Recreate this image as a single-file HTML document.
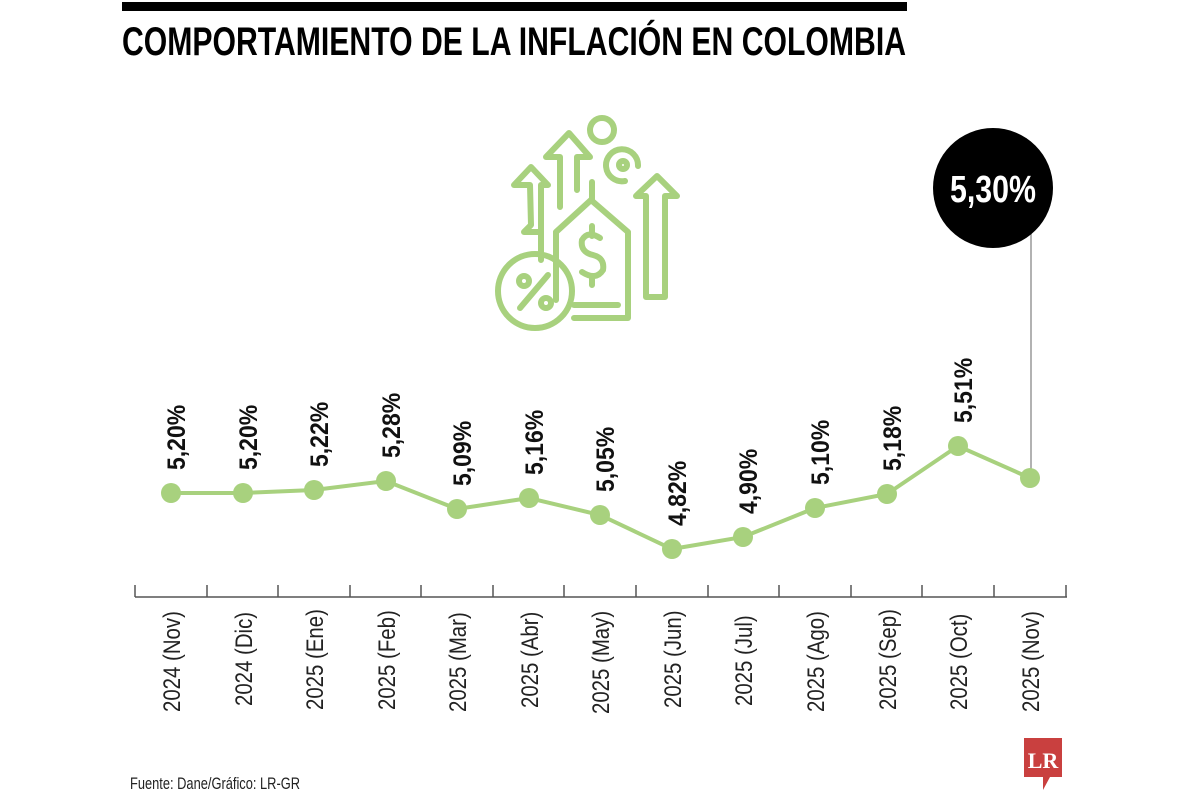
<!DOCTYPE html>
<html><head><meta charset="utf-8"><style>
html,body{margin:0;padding:0;background:#fff;}
svg{display:block;font-family:"Liberation Sans",sans-serif;}
</style></head><body>
<svg width="1200" height="800" viewBox="0 0 1200 800" xmlns="http://www.w3.org/2000/svg">
<rect x="122" y="2" width="785" height="9" fill="#000"/>
<text x="122" y="55" font-size="40" font-weight="bold" textLength="784" lengthAdjust="spacingAndGlyphs">COMPORTAMIENTO DE LA INFLACIÓN EN COLOMBIA</text>

<!-- icon -->
<g fill="none" stroke="#a8d17e" stroke-width="6" stroke-linejoin="round" stroke-linecap="round">
  <circle cx="602" cy="130" r="12"/>
  <path d="M625 181 A16 16 0 1 1 638 166"/>
  <circle cx="623" cy="165" r="4"/>
  <path d="M541 260 V232 H524 L531 225 L530 185 L514 185 L531 167 L548 185 L541 185 V245"/>
  <path d="M560 207 V157 H546 L569 133 L590 157 H577 V190"/>
  <path d="M646 297 V196 H636 L657 176 L677 196 H665 V297 Z"/>
  <path d="M556 300 V232 L591 200 L628 232 V318 H574"/>
  <path d="M592 200 V182"/>
  <path d="M600 238 Q588 230 582 240 Q580 252 593 255 Q605 258 603 270 Q596 281 582 272 M592 226 V236 M592 276 V285"/>
  <path d="M574 305 H618"/>
  <circle cx="535" cy="291" r="37"/>
  <path d="M520 308 L548 275"/>
  <circle cx="524" cy="281" r="5"/>
  <circle cx="546" cy="303" r="5"/>
</g>

<!-- callout -->
<line x1="1031" y1="230" x2="1031" y2="478" stroke="#999" stroke-width="1.5"/>
<circle cx="993" cy="188" r="60" fill="#000"/>
<text x="993" y="202" font-size="38" font-weight="bold" fill="#fff" text-anchor="middle" textLength="86" lengthAdjust="spacingAndGlyphs">5,30%</text>

<!-- line -->
<polyline fill="none" stroke="#a8d17e" stroke-width="4" points="171,493 243,493 314,490 386,481 457,509 529,498 600,515 672,549 743,537 815,508 887,494 958,446 1030,478"/>
<g fill="#a8d17e">
<circle cx="171" cy="493" r="10"/><circle cx="243" cy="493" r="10"/><circle cx="314" cy="490" r="10"/><circle cx="386" cy="481" r="10"/><circle cx="457" cy="509" r="10"/><circle cx="529" cy="498" r="10"/><circle cx="600" cy="515" r="10"/><circle cx="672" cy="549" r="10"/><circle cx="743" cy="537" r="10"/><circle cx="815" cy="508" r="10"/><circle cx="887" cy="494" r="10"/><circle cx="958" cy="446" r="10"/><circle cx="1030" cy="478" r="10"/>
</g>

<!-- value labels -->
<g font-size="25" font-weight="bold" fill="#111">
<text transform="translate(185,470) rotate(-90) scale(0.92,1)">5,20%</text>
<text transform="translate(257,470) rotate(-90) scale(0.92,1)">5,20%</text>
<text transform="translate(328,467) rotate(-90) scale(0.92,1)">5,22%</text>
<text transform="translate(400,458) rotate(-90) scale(0.92,1)">5,28%</text>
<text transform="translate(471,486) rotate(-90) scale(0.92,1)">5,09%</text>
<text transform="translate(543,475) rotate(-90) scale(0.92,1)">5,16%</text>
<text transform="translate(614,492) rotate(-90) scale(0.92,1)">5,05%</text>
<text transform="translate(686,526) rotate(-90) scale(0.92,1)">4,82%</text>
<text transform="translate(757,514) rotate(-90) scale(0.92,1)">4,90%</text>
<text transform="translate(829,485) rotate(-90) scale(0.92,1)">5,10%</text>
<text transform="translate(901,471) rotate(-90) scale(0.92,1)">5,18%</text>
<text transform="translate(972,423) rotate(-90) scale(0.92,1)">5,51%</text>
</g>

<!-- axis -->
<g stroke="#555" stroke-width="1.5">
<line x1="135" y1="597" x2="1067" y2="597"/>
<line x1="135" y1="585" x2="135" y2="597"/><line x1="207" y1="585" x2="207" y2="597"/><line x1="278" y1="585" x2="278" y2="597"/><line x1="350" y1="585" x2="350" y2="597"/><line x1="421" y1="585" x2="421" y2="597"/><line x1="493" y1="585" x2="493" y2="597"/><line x1="564" y1="585" x2="564" y2="597"/><line x1="636" y1="585" x2="636" y2="597"/><line x1="708" y1="585" x2="708" y2="597"/><line x1="779" y1="585" x2="779" y2="597"/><line x1="851" y1="585" x2="851" y2="597"/><line x1="922" y1="585" x2="922" y2="597"/><line x1="994" y1="585" x2="994" y2="597"/><line x1="1066" y1="585" x2="1066" y2="597"/>
</g>
<g font-size="24" fill="#222">
<text transform="translate(180,712) rotate(-90) scale(0.85,1)">2024 (Nov)</text>
<text transform="translate(252,706) rotate(-90) scale(0.85,1)">2024 (Dic)</text>
<text transform="translate(323,710) rotate(-90) scale(0.85,1)">2025 (Ene)</text>
<text transform="translate(395,710) rotate(-90) scale(0.85,1)">2025 (Feb)</text>
<text transform="translate(466,712) rotate(-90) scale(0.85,1)">2025 (Mar)</text>
<text transform="translate(538,708) rotate(-90) scale(0.85,1)">2025 (Abr)</text>
<text transform="translate(609,714) rotate(-90) scale(0.85,1)">2025 (May)</text>
<text transform="translate(681,708) rotate(-90) scale(0.85,1)">2025 (Jun)</text>
<text transform="translate(752,706) rotate(-90) scale(0.85,1)">2025 (Jul)</text>
<text transform="translate(824,712) rotate(-90) scale(0.85,1)">2025 (Ago)</text>
<text transform="translate(896,710) rotate(-90) scale(0.85,1)">2025 (Sep)</text>
<text transform="translate(967,710) rotate(-90) scale(0.85,1)">2025 (Oct)</text>
<text transform="translate(1039,712) rotate(-90) scale(0.85,1)">2025 (Nov)</text>
</g>

<text x="130" y="789" font-size="17" fill="#222" textLength="170" lengthAdjust="spacingAndGlyphs">Fuente: Dane/Gráfico: LR-GR</text>

<!-- LR logo -->
<path d="M1024 738 H1062 V777 H1050 L1043 790 L1043 777 H1024 Z" fill="#c9403f"/>
<text x="1043" y="768" font-family="Liberation Serif,serif" font-weight="bold" font-size="22" fill="#fff" text-anchor="middle">LR</text>
</svg>
</body></html>
